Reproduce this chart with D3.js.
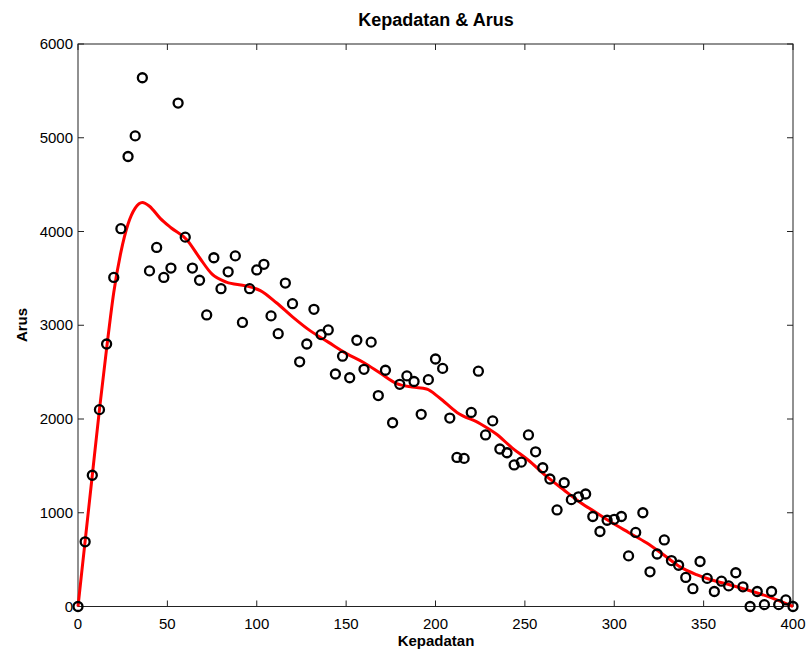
<!DOCTYPE html>
<html><head><meta charset="utf-8">
<script src="https://cdn.jsdelivr.net/npm/d3@7"></script>
<style>body{margin:0;background:#fff;} text{font-family:"Liberation Sans",Arial,sans-serif;}</style>
</head><body><svg id="c" width="807" height="652"></svg>
<script>
const density = d3.range(0, 401, 4);
const flow = [0,690,1400,2100,2800,3510,4030,4800,5020,5640,3580,3830,3510,3610,5370,3940,3610,3480,3110,3720,
3390,3570,3740,3030,3390,3590,3650,3100,2910,3450,3230,2610,2800,3170,2900,2950,2480,2670,2440,2840,
2530,2820,2250,2520,1960,2370,2460,2400,2050,2420,2640,2540,2010,1590,1580,2070,2510,1830,1980,1680,
1640,1510,1540,1830,1650,1480,1360,1030,1320,1140,1170,1200,960,800,920,930,960,540,790,1000,
370,560,710,490,440,310,190,480,300,160,270,220,360,210,0,160,20,160,20,70,0];
const fitX = [0,4,8,12,16,20,24,28,32,36,40,46,52,61,68,75,83,94,102,111,120,130,140,150,160,169,178,187,195,202,212,225,234,243,252,262,272,281,290,299,308,318,327,337,346,355,365,374,387,400];
const fitY = [0,700,1400,2100,2750,3350,3780,4080,4250,4310,4270,4140,4040,3910,3720,3545,3460,3420,3370,3240,3090,2940,2820,2700,2600,2490,2380,2340,2320,2230,2070,1950,1840,1690,1560,1390,1240,1110,1000,890,790,680,560,420,340,280,230,180,100,0];
const xTicks = [0,50,100,150,200,250,300,350,400];
const yTicks = [0,1000,2000,3000,4000,5000,6000];

const svg = d3.select("#c");
const L=78, R=793, T=44, B=606.5;
const x = d3.scaleLinear().domain([0,400]).range([L,R]);
const y = d3.scaleLinear().domain([0,6000]).range([B,T]);

const g = svg.append("g");
g.append("rect").attr("x",L).attr("y",T).attr("width",R-L).attr("height",B-T)
 .attr("fill","none").attr("stroke","#222").attr("stroke-width",1);

const tl = 6;
const ax = svg.append("g").attr("stroke","#222").attr("stroke-width",1);
xTicks.forEach(t=>{
  ax.append("line").attr("x1",x(t)).attr("x2",x(t)).attr("y1",B).attr("y2",B-tl);
  ax.append("line").attr("x1",x(t)).attr("x2",x(t)).attr("y1",T).attr("y2",T+tl);
});
yTicks.forEach(t=>{
  ax.append("line").attr("y1",y(t)).attr("y2",y(t)).attr("x1",L).attr("x2",L+tl);
  ax.append("line").attr("y1",y(t)).attr("y2",y(t)).attr("x1",R).attr("x2",R-tl);
});
svg.append("g").selectAll("text").data(xTicks).join("text")
 .attr("x",d=>x(d)).attr("y",B+22).attr("text-anchor","middle")
 .attr("font-size",15).attr("fill","#000").text(d=>d);
svg.append("g").selectAll("text").data(yTicks).join("text")
 .attr("x",L-5).attr("y",d=>y(d)+5).attr("text-anchor","end")
 .attr("font-size",15).attr("fill","#000").text(d=>d);

const line = d3.line().x((d,i)=>x(fitX[i])).y((d,i)=>y(fitY[i])).curve(d3.curveMonotoneX);
svg.append("path").datum(fitX).attr("d",line).attr("fill","none")
 .attr("stroke","#ff0000").attr("stroke-width",3);

svg.append("g").selectAll("circle").data(density).join("circle")
 .attr("cx",d=>x(d)).attr("cy",(d,i)=>y(flow[i])).attr("r",4.5)
 .attr("fill","none").attr("stroke","#000").attr("stroke-width",2.3);

svg.append("text").attr("x",436).attr("y",26).attr("text-anchor","middle")
 .attr("font-size",18).attr("font-weight","bold").text("Kepadatan & Arus");
svg.append("text").attr("x",436).attr("y",646).attr("text-anchor","middle")
 .attr("font-size",15).attr("font-weight","bold").text("Kepadatan");
svg.append("text").attr("transform","translate(27,325) rotate(-90)").attr("text-anchor","middle")
 .attr("font-size",15).attr("font-weight","bold").text("Arus");
</script></body></html>
